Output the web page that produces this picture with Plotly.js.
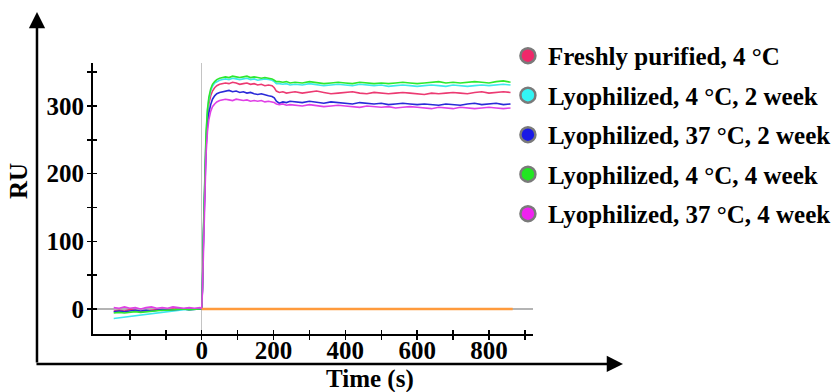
<!DOCTYPE html>
<html>
<head>
<meta charset="utf-8">
<script src="https://cdn.plot.ly/plotly-3.0.1.min.js"></script>
<style>html,body{margin:0;padding:0;background:#fff;}#chart{width:837px;height:392px;}</style>
</head>
<body>
<div id="chart"></div>
<script>
// ---- Data ----
var seriesNames = [
  "Freshly purified, 4 °C",
  "Lyophilized, 4 °C, 2 week",
  "Lyophilized, 37 °C, 2 week",
  "Lyophilized, 4 °C, 4 week",
  "Lyophilized, 37 °C, 4 week"
];
var time = [-245,-230,-215,-200,-185,-170,-155,-140,-125,-110,-95,-80,-65,-50,-35,-20,-5,0,
  2,5,8,12,16,20,25,30,36,42,50,58,
  66,76,86,96,106,116,126,136,146,156,166,176,186,196,202,208,216,226,236,246,
  260,280,300,320,340,360,380,400,420,440,460,480,500,520,540,560,580,600,620,640,660,680,700,720,740,760,780,800,820,840,860];

var freshly4C = [-3,-2,-3,-1,-2,-4,-3,-2,-1,-2,-1,0,-1,0,1,0,1,0,
  30,110,190,250,285,303,315,322,327,330,332,333,
  334,333,335,334,332,333,334,332,333,331,332,330,331,330,327,322,320,321,319,320,
  321,319,320,322,320,318,319,320,321,319,318,320,319,318,319,320,319,318,317,319,318,319,320,319,318,320,321,319,320,321,320];
var lyo4C2w = [-14,-13,-11,-10,-9,-8,-7,-6,-5,-4,-3,-2,-2,-1,-1,0,0,0,
  32,115,195,255,292,310,322,329,334,336,338,339,
  340,339,341,340,339,340,341,339,340,338,339,340,339,338,336,333,333,332,333,331,
  332,331,333,332,330,331,332,331,330,332,331,330,331,329,330,331,330,329,330,331,330,329,331,330,329,330,331,330,331,332,331];
var lyo37C2w = [-4,-3,-4,-3,-2,-3,-2,-3,-2,-1,-2,-1,-1,0,-1,0,0,0,
  28,105,180,238,272,290,302,310,315,318,320,321,
  322,323,321,322,320,321,319,320,318,317,318,316,315,314,312,307,304,306,305,307,
  306,305,307,305,304,306,305,304,303,305,304,303,304,302,303,304,303,302,303,302,301,303,302,301,303,304,302,303,304,302,303];
var lyo4C4w = [-6,-5,-6,-5,-4,-5,-4,-3,-3,-2,-2,-1,-1,0,-1,0,0,0,
  33,118,198,258,295,313,325,332,336,339,341,342,
  343,342,344,343,342,343,344,342,343,342,341,342,341,340,338,336,336,335,336,334,
  335,334,336,335,333,334,335,334,333,335,334,333,334,333,334,335,334,333,334,335,336,334,335,334,335,336,335,334,336,337,335];
var lyo37C4w = [2,1,3,1,2,0,2,3,1,2,1,3,2,1,2,1,2,0,
  25,95,170,228,262,280,292,299,303,306,308,309,
  310,309,308,310,309,308,309,307,308,307,308,306,307,306,305,303,302,303,301,302,
  301,300,302,301,299,300,301,300,299,298,300,299,298,299,297,298,299,298,297,296,298,297,296,298,297,296,297,298,297,296,297];
var blankTime = [0, 866];
var blankRU = [0, 0];

var xTickVals = [-200,-100,0,100,200,300,400,500,600,700,800,900];
var xTickText = ["","","0","","200","","400","","600","","800",""];
var yTickVals = [0,50,100,150,200,250,300,350];
var yTickText = ["0","","100","","200","","300",""];

// ---- Styles ----
var lineColors = ["#ec3a72","#3ee8ec","#2a2ad8","#2ee82e","#e040e6"];
var legendColors = ["#f0286a","#33f4f4","#1a1ae6","#22e622","#f022f0"];
var seriesData = [freshly4C, lyo4C2w, lyo37C2w, lyo4C4w, lyo37C4w];
var FONT = "Liberation Serif, Times New Roman, serif";
var FS = 25;

var traces = [];
for (var i = 0; i < seriesData.length; i++) {
  traces.push({
    x: time, y: seriesData[i], type: "scatter", mode: "lines",
    line: {color: lineColors[i], width: 1.6},
    showlegend: false, hoverinfo: "skip"
  });
}
// legend entries (markers only)
for (var j = 0; j < seriesNames.length; j++) {
  traces.push({
    x: [null], y: [null], type: "scatter", mode: "markers", name: seriesNames[j],
    legendgroup: "g" + j,
    marker: {symbol: "circle", size: 15, color: legendColors[j], line: {color: "#7a7a7a", width: 2.5}},
    showlegend: true
  });
}
// blank (reference) channel in orange
traces.push({
  x: blankTime, y: blankRU, type: "scatter", mode: "lines",
  line: {color: "#ff9a3c", width: 2.5}, xaxis: "x2", yaxis: "y2",
  showlegend: false, hoverinfo: "skip"
});

var xRange = [-302.7, 922.6];
var yRange = [-37, 363.5];

var layout = {
  width: 837, height: 392,
  margin: {l: 93, r: 304, t: 63, b: 58, autoexpand: false},
  paper_bgcolor: "#fff", plot_bgcolor: "#fff",
  font: {family: FONT, size: FS, color: "#000", weight: "bold"},
  showlegend: true,
  legend: {
    x: 0.943, y: 1.111, xanchor: "left", yanchor: "top",
    font: {family: FONT, size: FS, color: "#000", weight: "bold"},
    bgcolor: "rgba(0,0,0,0)", tracegroupgap: 4, itemwidth: 30
  },
  xaxis: {
    range: xRange, showgrid: false, showline: true, linecolor: "#000", linewidth: 2,
    ticks: "outside", ticklen: 4, tickwidth: 1.5, tickcolor: "#000",
    tickmode: "array", tickvals: xTickVals, ticktext: xTickText,
    tickfont: {family: FONT, size: FS, color: "#000", weight: "bold"},
    ticklabelstandoff: -11, automargin: false,
    zeroline: true, zerolinecolor: "#c4c4c4", zerolinewidth: 1.2,
    fixedrange: true
  },
  yaxis: {
    range: yRange, showgrid: false, showline: true, linecolor: "#000", linewidth: 2,
    ticks: "outside", ticklen: 4, tickwidth: 1.5, tickcolor: "#000",
    tickmode: "array", tickvals: yTickVals, ticktext: yTickText,
    tickfont: {family: FONT, size: FS, color: "#000", weight: "bold"},
    ticklabelstandoff: -2, automargin: false,
    zeroline: true, zerolinecolor: "#b4b4b4", zerolinewidth: 1.2,
    fixedrange: true
  },
  xaxis2: {
    overlaying: "x", anchor: "y2", range: xRange, showgrid: false, showline: false,
    ticks: "inside", ticklen: 4, tickwidth: 1.5, tickcolor: "#000",
    tickmode: "array", tickvals: xTickVals, showticklabels: false, zeroline: false, fixedrange: true
  },
  yaxis2: {
    overlaying: "y", anchor: "x2", side: "left", range: yRange, showgrid: false, showline: false,
    ticks: "inside", ticklen: 4, tickwidth: 1.5, tickcolor: "#000",
    tickmode: "array", tickvals: yTickVals, showticklabels: false, zeroline: false, fixedrange: true
  },
  annotations: [
    {xref: "paper", yref: "paper", x: 0.63, y: -0.166, xanchor: "center", yanchor: "middle",
     text: "Time (s)", showarrow: false, font: {family: FONT, size: FS, color: "#000", weight: "bold"}},
    {xref: "paper", yref: "paper", x: -0.168, y: 0.565, xanchor: "center", yanchor: "middle",
     text: "RU", textangle: -90, showarrow: false, font: {family: FONT, size: FS, color: "#000", weight: "bold"}},
    {xref: "paper", yref: "paper", x: -0.1273, y: 1.188, text: "", showarrow: true,
     ax: 0, ay: 352, axref: "pixel", ayref: "pixel", arrowhead: 2, arrowsize: 1.3, arrowwidth: 2.5, arrowcolor: "#000"},
    {xref: "paper", yref: "paper", x: 1.2045, y: -0.1107, text: "", showarrow: true,
     ax: -588, ay: 0, axref: "pixel", ayref: "pixel", arrowhead: 2, arrowsize: 1.3, arrowwidth: 2.5, arrowcolor: "#000"}
  ]
};

Plotly.newPlot("chart", traces, layout, {displayModeBar: false, staticPlot: true});
</script>
</body>
</html>
